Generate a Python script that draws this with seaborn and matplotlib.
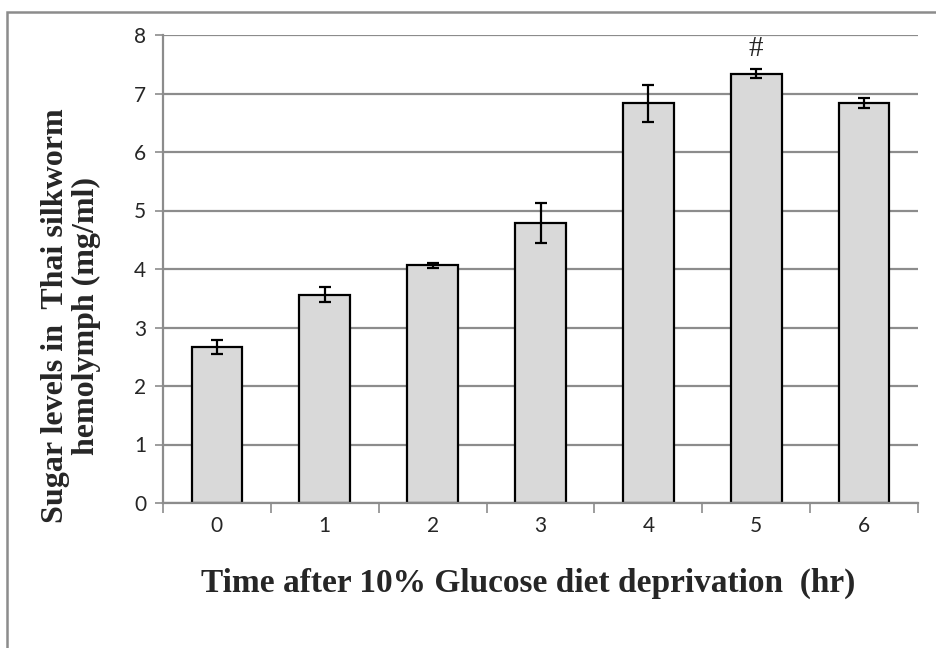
import matplotlib
matplotlib.use("Agg")
import matplotlib.pyplot as plt
from matplotlib.patches import Rectangle
import seaborn as sns
import pandas as pd
import numpy as np

# Haemolymph sugar after removal of the 10% glucose diet
hours = ["0", "1", "2", "3", "4", "5", "6"]
sugar_mean = [2.67, 3.56, 4.06, 4.79, 6.83, 7.34, 6.84]
sugar_err = [0.12, 0.13, 0.04, 0.34, 0.31, 0.08, 0.08]
marked_hour = "5"
y_ticks = [0, 1, 2, 3, 4, 5, 6, 7, 8]

sns.set_theme(style="white")
plt.rcParams["font.family"] = ["Lato", "DejaVu Sans"]

df = pd.DataFrame({"hour": hours, "sugar": sugar_mean})

fig = plt.figure(figsize=(9.36, 6.48), dpi=100)
ax = fig.add_axes([163 / 936, 1 - 503 / 648, (918 - 163) / 936, (503 - 35) / 648])

sns.barplot(data=df, x="hour", y="sugar", order=hours, color="#d9d9d9",
            saturation=1, width=0.47, edgecolor="black", linewidth=1.6,
            errorbar=None, ax=ax)
ax.errorbar(np.arange(len(hours)), sugar_mean, yerr=sugar_err, fmt="none",
            ecolor="black", elinewidth=1.6, capsize=4, capthick=1.6, zorder=5)

ax.set_xlim(-0.5, len(hours) - 0.5)
ax.set_ylim(0, 8)
ax.set_yticks(y_ticks)
ax.yaxis.grid(True, color="#8c8c8c", linewidth=1.6)
ax.set_axisbelow(True)

for side in ["top", "right"]:
    ax.spines[side].set_visible(False)
for side in ["left", "bottom"]:
    ax.spines[side].set_color("#8c8c8c")
    ax.spines[side].set_linewidth(1.6)

ax.tick_params(axis="y", which="major", direction="out", length=6, width=1.2,
               color="#8c8c8c", labelsize=15, pad=6, left=True)
ax.set_xticks(np.arange(len(hours)))
ax.set_xticklabels(hours)
ax.set_xticks(np.arange(-0.5, len(hours)), minor=True)
ax.tick_params(axis="x", which="major", length=0, labelsize=15, pad=9)
ax.tick_params(axis="x", which="minor", direction="out", length=7, width=1.2,
               color="#8c8c8c", bottom=True)
ax.set_xlabel("")
ax.set_ylabel("")

i = hours.index(marked_hour)
ax.text(i, sugar_mean[i] + sugar_err[i] + 0.12, "#", ha="center", va="bottom",
        fontsize=21, fontfamily="Liberation Serif")

fig.text(528 / 936, 1 - 583 / 648, "Time after 10% Glucose diet deprivation  (hr)",
         ha="center", va="center", fontsize=24, fontweight="bold",
         fontfamily="Liberation Serif")
fig.text(71 / 936, 1 - 316 / 648, "Sugar levels in  Thai silkworm\nhemolymph (mg/ml)",
         ha="center", va="center", rotation=90, fontsize=23, fontweight="bold",
         fontfamily="Liberation Serif", linespacing=1.1)

# outer frame around the chart area
fig.patches.append(Rectangle((7 / 936, -0.1), 1.2, 1 - 12 / 648 + 0.1,
                             transform=fig.transFigure, fill=False,
                             edgecolor="#8c8c8c", linewidth=1.8))

fig.savefig("out.png", dpi=100)
